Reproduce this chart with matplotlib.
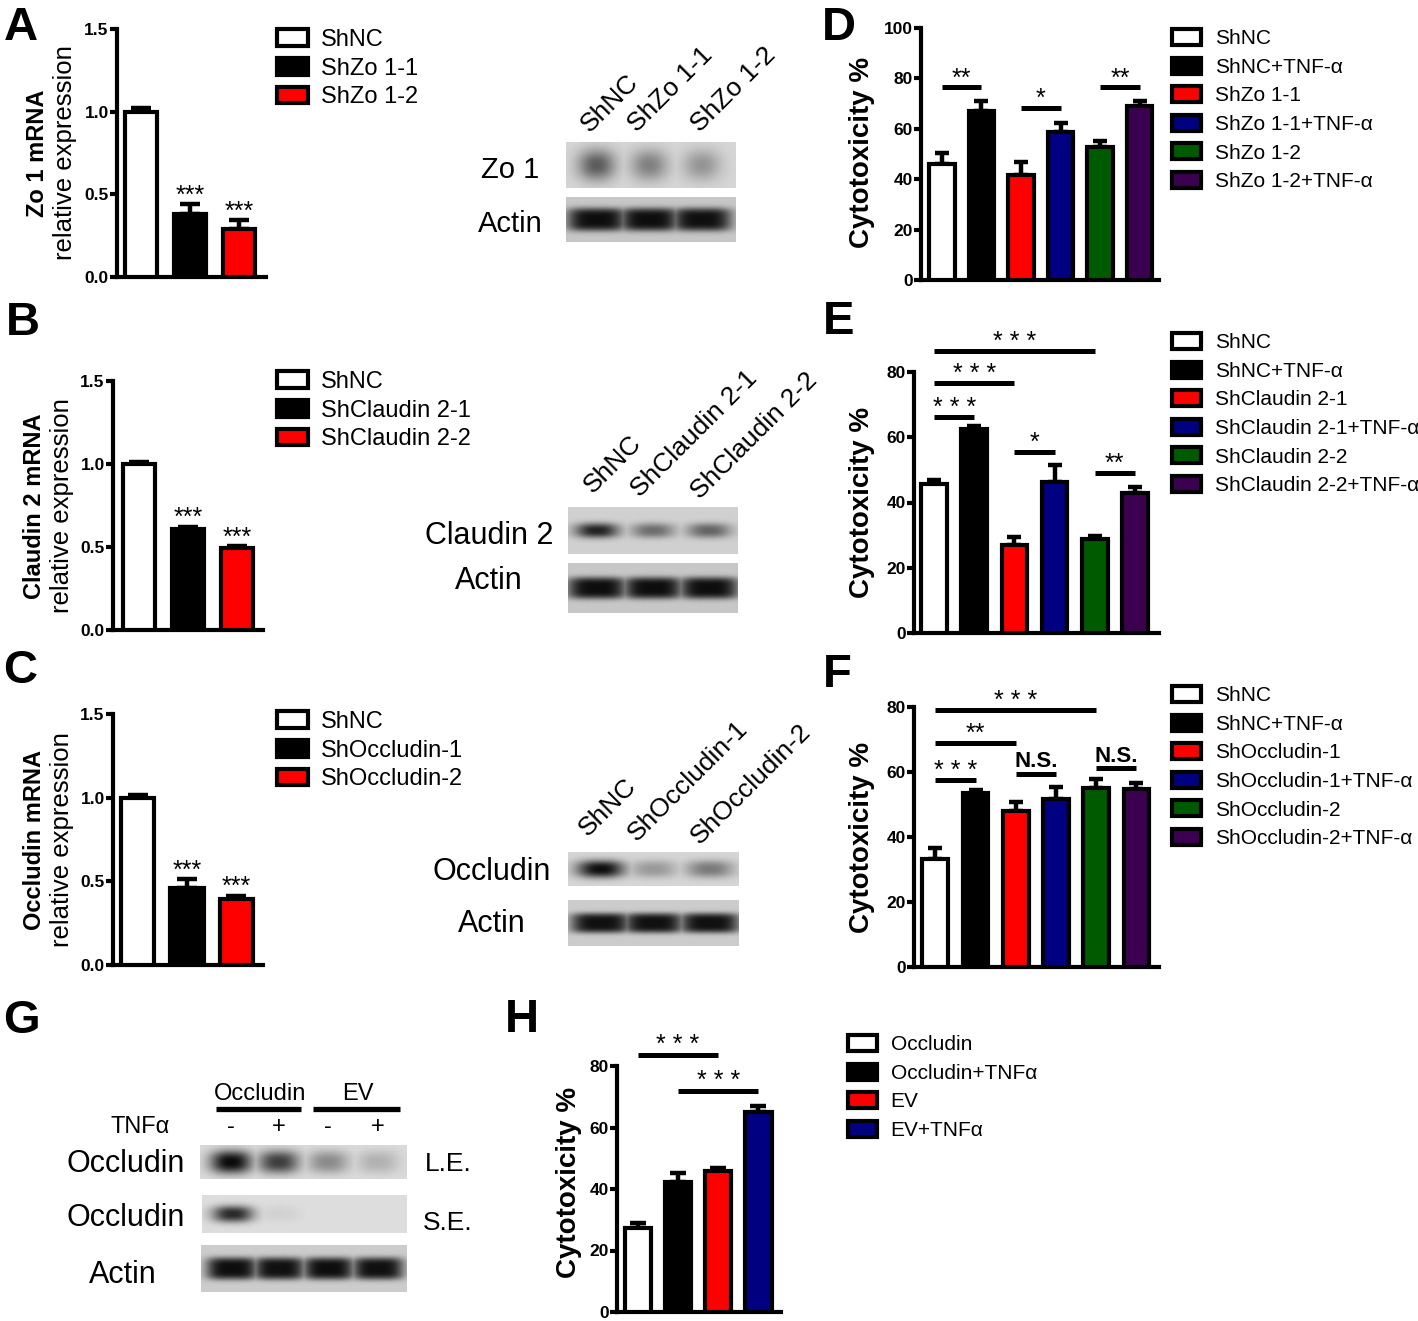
import numpy as np
import matplotlib
matplotlib.use('Agg')
import matplotlib.pyplot as plt

plt.rcParams['font.family'] = ['Liberation Sans', 'DejaVu Sans']

# ---------------- data ----------------
colors6 = ['#ffffff', '#000000', '#ff0000', '#000080', '#005a00', '#3c0050']
colors3 = colors6[:3]

a_labels = ['ShNC', 'ShZo 1-1', 'ShZo 1-2']
a_vals = [1.0, 0.38, 0.29]
a_errs = [0.02, 0.06, 0.055]

b_labels = ['ShNC', 'ShClaudin 2-1', 'ShClaudin 2-2']
b_vals = [1.0, 0.61, 0.495]
b_errs = [0.015, 0.012, 0.01]

c_labels = ['ShNC', 'ShOccludin-1', 'ShOccludin-2']
c_vals = [1.0, 0.46, 0.395]
c_errs = [0.015, 0.055, 0.02]

d_labels = ['ShNC', 'ShNC+TNF-α', 'ShZo 1-1', 'ShZo 1-1+TNF-α', 'ShZo 1-2', 'ShZo 1-2+TNF-α']
d_vals = [46.0, 66.9, 41.7, 58.9, 52.6, 69.1]
d_errs = [4.3, 4.1, 5.1, 3.6, 2.6, 2.0]
d_sig = [(0, 1, 76.4, '**'), (2, 3, 68.2, '*'), (4, 5, 76.4, '**')]

e_labels = ['ShNC', 'ShNC+TNF-α', 'ShClaudin 2-1', 'ShClaudin 2-1+TNF-α', 'ShClaudin 2-2', 'ShClaudin 2-2+TNF-α']
e_vals = [45.7, 62.6, 27.1, 46.4, 28.8, 42.8]
e_errs = [1.1, 0.7, 2.2, 5.2, 1.0, 2.1]
e_sig = [(0, 1, 66.2, '* * *'), (0, 2, 76.6, '* * *'), (0, 4, 86.5, '* * *'),
         (2, 3, 55.4, '*'), (4, 5, 49.0, '**')]

f_labels = ['ShNC', 'ShNC+TNF-α', 'ShOccludin-1', 'ShOccludin-1+TNF-α', 'ShOccludin-2', 'ShOccludin-2+TNF-α']
f_vals = [33.1, 53.6, 48.1, 51.6, 55.2, 54.7]
f_errs = [3.5, 0.8, 2.7, 3.8, 2.7, 2.0]
f_sig = [(0, 1, 57.6, '* * *'), (0, 2, 68.9, '**'), (0, 4, 79.2, '* * *'),
         (2, 3, 59.5, 'N.S.'), (4, 5, 61.1, 'N.S.')]

h_labels = ['Occludin', 'Occludin+TNFα', 'EV', 'EV+TNFα']
h_vals = [27.4, 42.3, 45.9, 65.0]
h_errs = [1.6, 2.9, 1.0, 2.1]
h_colors = ['#ffffff', '#000000', '#ff0000', '#000080']
h_sig = [(0, 2, 83.6, '* * *'), (1, 3, 71.9, '* * *')]

# western blot band intensities (relative darkness)
zo1_band = [0.6, 0.42, 0.32]
zo1_actin = [0.98, 0.98, 0.97]
cld_band = [0.88, 0.5, 0.55]
cld_actin = [0.98, 0.98, 0.98]
ocl_band = [0.98, 0.3, 0.45]
ocl_actin = [0.97, 0.97, 0.97]
g_lanes_top = ['Occludin', 'EV']
g_tnf = ['-', '+', '-', '+']
g_le = [1.0, 0.75, 0.38, 0.2]
g_se = [0.85, 0.06, 0.0, 0.0]
g_actin = [0.98, 0.97, 0.98, 0.97]

# ---------------- figure ----------------
W, H = 1418, 1321
fig = plt.figure(figsize=(W / 100, H / 100), dpi=100)


def fx(x):
    return x / W


def fy(y):
    return 1 - y / H


def px_axes(l, t, r, b):
    return fig.add_axes([l / W, 1 - b / H, (r - l) / W, (b - t) / H])


def bar_panel(rect, labels, vals, errs, colors, ylim, yticks, fmt, xlim, width, capsize):
    ax = px_axes(*rect)
    x = np.arange(len(vals))
    ax.bar(x, vals, width=width, color=colors, edgecolor='black', linewidth=3,
           label=labels, zorder=3)
    ax.errorbar(x, vals, yerr=[np.zeros(len(vals)), errs], fmt='none', ecolor='black',
                elinewidth=3.2, capsize=capsize, capthick=3.2, zorder=2)
    ax.set_xlim(*xlim)
    ax.set_ylim(*ylim)
    ax.spines[['top', 'right']].set_visible(False)
    for s in ['left', 'bottom']:
        ax.spines[s].set_linewidth(3)
    ax.set_xticks([])
    ax.set_yticks(yticks)
    ax.set_yticklabels([fmt.format(t) for t in yticks], fontweight='bold', fontsize=12.5)
    ax.tick_params(axis='y', direction='out', length=5, width=3, pad=1)
    ax.patch.set_alpha(0)
    return ax, x


def add_legend(ax, x, y, fs, hl, hh, ls, htp):
    ax.legend(loc='upper left', bbox_to_anchor=(fx(x), fy(y)), bbox_transform=fig.transFigure,
              frameon=False, fontsize=fs, handlelength=hl, handleheight=hh, labelspacing=ls,
              handletextpad=htp, borderpad=0, borderaxespad=0)


def sig(ax, i, j, y, label, fs, off, bold=False):
    ax.plot([i, j], [y, y], color='k', lw=3.6, solid_capstyle='butt', clip_on=False)
    ax.annotate(label, ((i + j) / 2, y), xytext=(0, off), textcoords='offset points',
                ha='center', va='baseline', fontsize=fs,
                fontweight='bold' if bold else 'normal', annotation_clip=False)


def stars(ax, x, vals, errs, idx, fs=18):
    for i in idx:
        ax.annotate('***', (x[i], vals[i] + errs[i]), xytext=(0, 1), textcoords='offset points',
                    ha='center', va='baseline', fontsize=fs, annotation_clip=False)


def blot(rect, intens, lane_fracs, bw, bh, bg, expo=3.0, dark=0.04):
    ax = px_axes(*rect)
    nx = int(rect[2] - rect[0]) * 2
    ny = int(rect[3] - rect[1]) * 2
    X, Y = np.meshgrid(np.linspace(0, 1, nx), np.linspace(0, 1, ny))
    d = np.zeros_like(X)
    for I, xc in zip(intens, lane_fracs):
        d = np.maximum(d, I * np.exp(-np.abs((X - xc) / bw) ** expo - np.abs((Y - 0.5) / bh) ** expo))
    img = bg - (bg - dark) * d
    ax.imshow(img, cmap='gray', vmin=0, vmax=1, aspect='auto', extent=(0, 1, 1, 0),
              interpolation='bilinear')
    ax.set_xlim(0, 1)
    ax.set_ylim(1, 0)
    ax.axis('off')
    return ax


def ylabel2(x1, x2, yc, l1, l2, fs1=17, fs2=18.5):
    fig.text(fx(x1), fy(yc), l1, rotation=90, ha='center', va='center', fontsize=fs1, fontweight='bold')
    fig.text(fx(x2), fy(yc), l2, rotation=90, ha='center', va='center', fontsize=fs2)


def ylabel_cyto(x, yc):
    fig.text(fx(x), fy(yc), 'Cytotoxicity %', rotation=90, ha='center', va='center',
             fontsize=20, fontweight='bold')


def panel_letter(x, y, s):
    fig.text(fx(x), fy(y), s, fontsize=34, fontweight='bold', ha='left', va='baseline')


LEG3 = dict(fs=17, hl=1.3, hh=0.7, ls=0.28, htp=0.55)
LEG6 = dict(fs=15, hl=1.4, hh=0.8, ls=0.45, htp=0.65)

# ---------------- A ----------------
axA, xA = bar_panel((117, 29, 266, 277), a_labels, a_vals, a_errs, colors3, (0, 1.5),
                    [0, 0.5, 1.0, 1.5], '{:.1f}', (-0.49, 2.55), 0.67, 7)
stars(axA, xA, a_vals, a_errs, [1, 2])
add_legend(axA, 277, 29, **LEG3)
ylabel2(38, 65, 153, 'Zo 1 mRNA', 'relative expression')
panel_letter(4, 40, 'A')

# ---------------- B ----------------
axB, xB = bar_panel((113, 381, 263, 630), b_labels, b_vals, b_errs, colors3, (0, 1.5),
                    [0, 0.5, 1.0, 1.5], '{:.1f}', (-0.53, 2.53), 0.67, 7)
stars(axB, xB, b_vals, b_errs, [1, 2])
add_legend(axB, 277, 371, **LEG3)
ylabel2(35, 62, 506, 'Claudin 2 mRNA', 'relative expression')
panel_letter(6, 335, 'B')

# ---------------- C ----------------
axC, xC = bar_panel((113, 714, 263, 965), c_labels, c_vals, c_errs, colors3, (0, 1.5),
                    [0, 0.5, 1.0, 1.5], '{:.1f}', (-0.5, 2.54), 0.67, 7)
stars(axC, xC, c_vals, c_errs, [1, 2])
add_legend(axC, 277, 711, **LEG3)
ylabel2(35, 62, 840, 'Occludin mRNA', 'relative expression')
panel_letter(3, 683, 'C')

# ---------------- D ----------------
axD, xD = bar_panel((921, 28, 1159, 280), d_labels, d_vals, d_errs, colors6, (0, 100),
                    [0, 20, 40, 60, 80, 100], '{:d}', (-0.53, 5.49), 0.64, 5)
for i, j, y, s in d_sig:
    sig(axD, i, j, y, s, 18, 1.5)
add_legend(axD, 1172, 29, **LEG6)
ylabel_cyto(862, 152)
panel_letter(822, 40, 'D')

# ---------------- E ----------------
axE, xE = bar_panel((914, 372, 1159, 633), e_labels, e_vals, e_errs, colors6, (0, 80),
                    [0, 20, 40, 60, 80], '{:d}', (-0.5, 5.6), 0.64, 5)
for i, j, y, s in e_sig:
    sig(axE, i, j, y, s, 18, 1.5)
add_legend(axE, 1172, 333, **LEG6)
ylabel_cyto(862, 502)
panel_letter(823, 334, 'E')

# ---------------- F ----------------
axF, xF = bar_panel((914, 707, 1159, 967), f_labels, f_vals, f_errs, colors6, (0, 80),
                    [0, 20, 40, 60, 80], '{:d}', (-0.53, 5.56), 0.64, 5)
for i, j, y, s in f_sig:
    bold = s == 'N.S.'
    if bold:
        sig(axF, i, j, y, s, 16, 4.5, True)
    else:
        sig(axF, i, j, y, s, 18, 1.5)
add_legend(axF, 1172, 686, **LEG6)
ylabel_cyto(862, 837)
panel_letter(823, 687, 'F')

# ---------------- H ----------------
axH, xH = bar_panel((617, 1066, 781, 1312), h_labels, h_vals, h_errs, h_colors, (0, 80),
                    [0, 20, 40, 60, 80], '{:d}', (-0.52, 3.56), 0.65, 5.5)
for i, j, y, s in h_sig:
    sig(axH, i, j, y, s, 18, 2)
add_legend(axH, 848, 1035, **LEG6)
ylabel_cyto(569, 1182)
panel_letter(505, 1032, 'H')

# ---------------- blots A ----------------
lanes3A = [0.18, 0.49, 0.80]
blot((566, 142, 736, 188), zo1_band, lanes3A, 0.11, 0.34, 0.84, expo=2.2)
blot((566, 197, 736, 242), zo1_actin, lanes3A, 0.175, 0.26, 0.78, expo=4)
fig.text(fx(510), fy(178), 'Zo 1', ha='center', va='baseline', fontsize=21)
fig.text(fx(510), fy(232), 'Actin', ha='center', va='baseline', fontsize=21)
for xp, lab in zip([590, 637, 700], a_labels):
    fig.text(fx(xp), fy(133), lab, rotation=45, rotation_mode='anchor', ha='left',
             va='baseline', fontsize=19)

# ---------------- blots B ----------------
lanes3B = [0.17, 0.5, 0.83]
blot((568, 507, 738, 554), cld_band, lanes3B, 0.13, 0.16, 0.82, expo=2.5)
blot((568, 563, 738, 613), cld_actin, lanes3B, 0.175, 0.22, 0.78, expo=4)
fig.text(fx(489), fy(544), 'Claudin 2', ha='center', va='baseline', fontsize=22)
fig.text(fx(489), fy(589), 'Actin', ha='center', va='baseline', fontsize=22)
for xp, yp, lab in zip([593, 640, 700], [494, 498, 500], b_labels):
    fig.text(fx(xp), fy(yp), lab, rotation=45, rotation_mode='anchor', ha='left',
             va='baseline', fontsize=19)

# ---------------- blots C ----------------
lanes3C = [0.19, 0.5, 0.83]
blot((568, 852, 739, 886), ocl_band, lanes3C, 0.14, 0.26, 0.84, expo=2.5)
blot((568, 900, 739, 946), ocl_actin, lanes3C, 0.175, 0.22, 0.8, expo=4)
fig.text(fx(492), fy(880), 'Occludin', ha='center', va='baseline', fontsize=22)
fig.text(fx(492), fy(932), 'Actin', ha='center', va='baseline', fontsize=22)
for xp, yp, lab in zip([588, 637, 700], [837, 842, 845], c_labels):
    fig.text(fx(xp), fy(yp), lab, rotation=45, rotation_mode='anchor', ha='left',
             va='baseline', fontsize=19)

# ---------------- G ----------------
gl, gr = 200, 407
lanes4 = [0.15, 0.38, 0.62, 0.86]
blot((gl, 1145, gr, 1179), g_le, lanes4, 0.1, 0.34, 0.86, expo=2.5)
blot((gl + 2, 1195, gr, 1233), g_se, lanes4, 0.1, 0.22, 0.87, expo=2.5)
blot((gl + 1, 1245, gr, 1292), g_actin, lanes4, 0.125, 0.24, 0.8, expo=4)
lane_px = [gl + f * (gr - gl) for f in lanes4]
fig.text(fx(126), fy(1172), 'Occludin', ha='center', va='baseline', fontsize=22)
fig.text(fx(126), fy(1226), 'Occludin', ha='center', va='baseline', fontsize=22)
fig.text(fx(123), fy(1283), 'Actin', ha='center', va='baseline', fontsize=22)
fig.text(fx(425), fy(1171), 'L.E.', ha='left', va='baseline', fontsize=19)
fig.text(fx(423), fy(1230), 'S.E.', ha='left', va='baseline', fontsize=19)
fig.text(fx(140), fy(1133), 'TNFα', ha='center', va='baseline', fontsize=17)
for xp, s in zip(lane_px, g_tnf):
    fig.text(fx(xp), fy(1133), s, ha='center', va='baseline', fontsize=17)
for k, lab in enumerate(g_lanes_top):
    a, b = lane_px[2 * k], lane_px[2 * k + 1]
    fig.text(fx((a + b) / 2 + 5), fy(1100), lab, ha='center', va='baseline', fontsize=17)
    fig.add_artist(plt.Line2D([fx(a - 15), fx(b + 22)], [fy(1109), fy(1109)], color='k',
                              lw=3.8, solid_capstyle='butt'))
panel_letter(3, 1033, 'G')

fig.savefig('out.png', dpi=100)
